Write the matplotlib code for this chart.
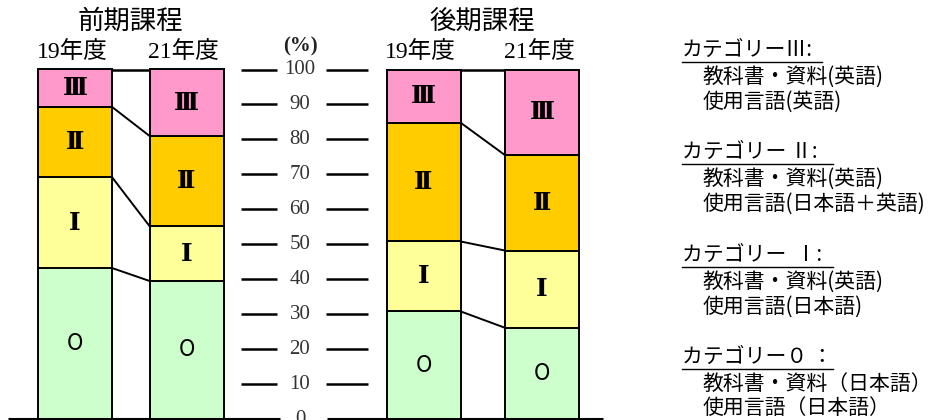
import matplotlib
matplotlib.use("Agg")
import matplotlib.pyplot as plt

# ---- data (percent, bottom to top: O, I, II, III) ----
categories = ["O", "Ⅰ", "Ⅱ", "Ⅲ"]
colors = ["#CCFFCC", "#FFFF99", "#FFCC00", "#FF99CC"]
years = ["19年度", "21年度"]
zenki_19 = [43.2, 26.0, 20.1, 10.7]
zenki_21 = [39.5, 15.7, 25.8, 19.0]
koki_19 = [30.8, 20.0, 34.0, 15.2]
koki_21 = [26.1, 22.1, 27.3, 24.5]
group_titles = ["前期課程", "後期課程"]
yticks = [0, 10, 20, 30, 40, 50, 60, 70, 80, 90, 100]

legend_headers = ["カテゴリーⅢ:", "カテゴリー Ⅱ:", "カテゴリー  Ⅰ:", "カテゴリー０ ："]
legend_lines = [
    ["教科書・資料(英語)", "使用言語(英語)"],
    ["教科書・資料(英語)", "使用言語(日本語＋英語)"],
    ["教科書・資料(英語)", "使用言語(日本語)"],
    ["教科書・資料（日本語）", "使用言語（日本語）"],
]

CJK = ["Noto Sans CJK JP", "DejaVu Sans"]
MIX = ["Liberation Serif", "Noto Sans CJK JP"]
ROMAN = ["DejaVu Serif", "Noto Sans CJK JP"]

fig = plt.figure(figsize=(9.34, 4.2), dpi=100)
ax = fig.add_axes([0, 0, 1, 1])
ax.set_xlim(0, 934)
Y0, S = 419.0, 3.495  # pixel of 0%, pixels per percent
ax.set_ylim((Y0 - 420) / S, Y0 / S)
ax.axis("off")


def py(p):
    return (Y0 - p) / S


groups = [
    (group_titles[0], [zenki_19, zenki_21], [75, 186.5], 130),
    (group_titles[1], [koki_19, koki_21], [423.5, 542], 482),
]
W = 74
for title, series, xs, tx in groups:
    cums = []
    for vals, xc, yl in zip(series, xs, years):
        bottom = 0
        cum = []
        for v, c, lab in zip(vals, colors, categories):
            ax.bar(xc, v, bottom=bottom, width=W, color=c, edgecolor="black",
                   linewidth=1.4, zorder=2)
            if lab == "O":
                ax.text(xc, bottom + v / 2, lab, ha="center", va="center",
                        fontsize=16, family=CJK, zorder=3)
            else:
                ax.text(xc, bottom + v / 2, lab, ha="center", va="center",
                        fontsize=18, family=ROMAN, fontweight="bold", zorder=3)
            bottom += v
            cum.append(bottom)
        cums.append(cum)
        ax.text(xc - 3, py(52), yl, ha="center", va="center", fontsize=17,
                family=MIX)
    # connecting lines
    xr = xs[0] + W / 2
    xl = xs[1] - W / 2
    for a, b in zip(cums[0][:-1], cums[1][:-1]):
        ax.plot([xr, xl], [a, b], color="black", lw=1.4, zorder=1)
    ax.plot([xr, xl], [100, 100], color="black", lw=1.8, zorder=1)
    ax.text(tx, py(21), title, ha="center", va="center", fontsize=19,
            family=CJK)

# baseline
ax.plot([8, 280], [0, 0], color="black", lw=2.2, zorder=4, solid_capstyle="butt")
ax.plot([327, 603], [0, 0], color="black", lw=2.2, zorder=4, solid_capstyle="butt")

# middle scale
for t in yticks:
    if t > 0:
        ax.plot([241, 277], [t, t], color="black", lw=1.8, solid_capstyle="butt")
        ax.plot([326, 368], [t, t], color="black", lw=1.8, solid_capstyle="butt")
    ax.text(300, t, str(t), ha="center", va="center", fontsize=15,
            family="Liberation Serif", color="#333333")
ax.text(300, py(46), "(%)", ha="center", va="center", fontsize=15,
        family="Liberation Serif", fontweight="bold", color="#222222")

# legend text
header_y = [50, 152, 255, 357]
for hy, hdr, lines, ux in zip(header_y, legend_headers, legend_lines,
                               [822, 833, 833, 833]):
    ax.text(682, py(hy), hdr, ha="left", va="center", fontsize=15, family=CJK)
    ax.plot([682, ux], [py(hy + 12), py(hy + 12)], color="black", lw=1.0)
    for i, ln in enumerate(lines):
        ax.text(703, py(hy + 27 + 24.5 * i), ln, ha="left", va="center",
                fontsize=15, family=CJK)

fig.savefig("out.png", dpi=100)
